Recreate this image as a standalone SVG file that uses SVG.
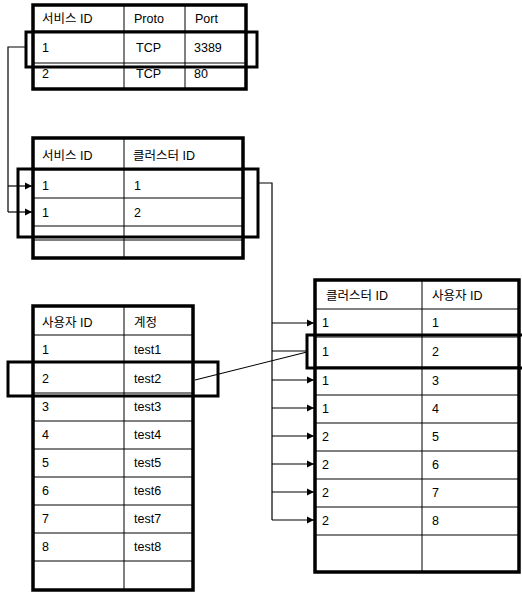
<svg xmlns="http://www.w3.org/2000/svg" width="522" height="592" viewBox="0 0 522 592">
<style>
.outer{fill:#fff;stroke:#000;stroke-width:3.5}
.inner{stroke:#000;stroke-width:1;fill:none}
.hl{fill:none;stroke:#000;stroke-width:3}
.conn{fill:none;stroke:#000;stroke-width:1.2}
text{font-family:"Liberation Sans","Noto Sans CJK KR",sans-serif;font-size:12.5px;fill:#000}
</style>
<defs>
<marker id="arr" markerWidth="8" markerHeight="8" refX="7" refY="4" orient="auto" markerUnits="userSpaceOnUse">
<path d="M0,0.5 L7,4 L0,7.5 Z" fill="#000"/>
</marker>
</defs>
<rect width="522" height="592" fill="#fff"/>

<g id="service-table">
<rect class="outer" x="33" y="5" width="213" height="84"/>
<line class="inner" x1="124" y1="5" x2="124" y2="89"/>
<line class="inner" x1="185" y1="5" x2="185" y2="89"/>
<line class="inner" x1="33" y1="31" x2="246" y2="31"/>
<line class="inner" x1="33" y1="63" x2="246" y2="63"/>
<text x="42" y="23">서비스 ID</text><text x="134" y="23">Proto</text><text x="195" y="23">Port</text>
<text x="42" y="52">1</text><text x="136" y="52">TCP</text><text x="194" y="52">3389</text>
<text x="42" y="78">2</text><text x="136" y="78">TCP</text><text x="194" y="78">80</text>
<rect class="hl" x="26" y="32" width="231" height="35"/>
</g>

<g id="service-cluster-table">
<rect class="outer" x="33" y="138" width="210" height="120"/>
<line class="inner" x1="124" y1="138" x2="124" y2="258"/>
<line class="inner" x1="33" y1="170" x2="243" y2="170"/>
<line class="inner" x1="33" y1="198" x2="243" y2="198"/>
<line class="inner" x1="33" y1="226" x2="243" y2="226"/>
<line class="inner" x1="33" y1="240" x2="243" y2="240"/>
<text x="42" y="160">서비스 ID</text><text x="133" y="160">클러스터 ID</text>
<text x="42" y="190">1</text><text x="134" y="190">1</text>
<text x="42" y="217">1</text><text x="134" y="217">2</text>
<rect class="hl" x="18" y="169" width="240" height="68"/>
</g>

<g id="user-table">
<rect class="outer" x="33" y="306" width="160" height="284"/>
<line class="inner" x1="124" y1="306" x2="124" y2="590"/>
<line class="inner" x1="33" y1="335" x2="193" y2="335"/>
<line class="inner" x1="33" y1="362" x2="193" y2="362"/>
<line class="inner" x1="33" y1="393" x2="193" y2="393"/>
<line class="inner" x1="33" y1="421" x2="193" y2="421"/>
<line class="inner" x1="33" y1="449" x2="193" y2="449"/>
<line class="inner" x1="33" y1="477" x2="193" y2="477"/>
<line class="inner" x1="33" y1="505" x2="193" y2="505"/>
<line class="inner" x1="33" y1="533" x2="193" y2="533"/>
<line class="inner" x1="33" y1="561" x2="193" y2="561"/>
<text x="42" y="327">사용자 ID</text><text x="134" y="327">계정</text>
<text x="42" y="354">1</text><text x="134" y="354">test1</text>
<text x="42" y="383">2</text><text x="134" y="383">test2</text>
<text x="42" y="411">3</text><text x="134" y="411">test3</text>
<text x="42" y="439">4</text><text x="134" y="439">test4</text>
<text x="42" y="467">5</text><text x="134" y="467">test5</text>
<text x="42" y="495">6</text><text x="134" y="495">test6</text>
<text x="42" y="523">7</text><text x="134" y="523">test7</text>
<text x="42" y="551">8</text><text x="134" y="551">test8</text>
<rect class="hl" x="8" y="362" width="210" height="34"/>
</g>

<g id="cluster-user-table">
<rect class="outer" x="315" y="280" width="204" height="292"/>
<line class="inner" x1="422" y1="280" x2="422" y2="572"/>
<line class="inner" x1="315" y1="309" x2="519" y2="309"/>
<line class="inner" x1="315" y1="337" x2="519" y2="337"/>
<line class="inner" x1="315" y1="367" x2="519" y2="367"/>
<line class="inner" x1="315" y1="395" x2="519" y2="395"/>
<line class="inner" x1="315" y1="423" x2="519" y2="423"/>
<line class="inner" x1="315" y1="451" x2="519" y2="451"/>
<line class="inner" x1="315" y1="479" x2="519" y2="479"/>
<line class="inner" x1="315" y1="507" x2="519" y2="507"/>
<line class="inner" x1="315" y1="535" x2="519" y2="535"/>
<text x="326" y="300">클러스터 ID</text><text x="432" y="300">사용자 ID</text>
<text x="322" y="327">1</text><text x="432" y="327">1</text>
<text x="322" y="356">1</text><text x="432" y="356">2</text>
<text x="322" y="385">1</text><text x="432" y="385">3</text>
<text x="322" y="413">1</text><text x="432" y="413">4</text>
<text x="322" y="441">2</text><text x="432" y="441">5</text>
<text x="322" y="469">2</text><text x="432" y="469">6</text>
<text x="322" y="497">2</text><text x="432" y="497">7</text>
<text x="322" y="525">2</text><text x="432" y="525">8</text>
<rect class="hl" x="307" y="335" width="218" height="33"/>
</g>

<g id="connectors">
<path class="conn" d="M26,47 H8 V212"/>
<path class="conn" d="M8,186 H32" marker-end="url(#arr)"/>
<path class="conn" d="M8,212 H32" marker-end="url(#arr)"/>
<path class="conn" d="M258,183 H272 V520"/>
<path class="conn" d="M272,323 H314" marker-end="url(#arr)"/>
<path class="conn" d="M272,351 H307"/>
<path class="conn" d="M272,380 H314" marker-end="url(#arr)"/>
<path class="conn" d="M272,408 H314" marker-end="url(#arr)"/>
<path class="conn" d="M272,436 H314" marker-end="url(#arr)"/>
<path class="conn" d="M272,464 H314" marker-end="url(#arr)"/>
<path class="conn" d="M272,492 H314" marker-end="url(#arr)"/>
<path class="conn" d="M272,520 H314" marker-end="url(#arr)"/>
<path class="conn" d="M195,380 L307,352"/>
</g>
</svg>
